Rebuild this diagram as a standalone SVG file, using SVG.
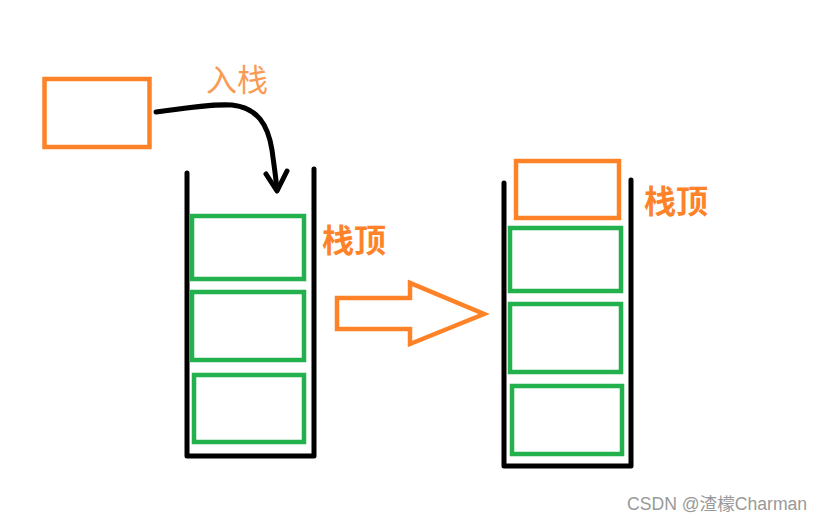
<svg xmlns="http://www.w3.org/2000/svg" width="823" height="522" viewBox="0 0 823 522">
<style>
.or{fill:none;stroke:#fe8227;stroke-width:4.5}
.gr{fill:none;stroke:#22b14c;stroke-width:4.5}
.bk{fill:none;stroke:#000;stroke-width:5;stroke-linecap:round;stroke-linejoin:round}
.lbl{font-family:"Noto Sans CJK SC","Noto Sans",sans-serif;font-size:32px;fill:#fe8227;font-weight:bold}
.lbl2{font-family:"Noto Sans CJK SC","Noto Sans",sans-serif;font-size:31px;fill:#f99b55}
.wm{font-family:"Liberation Sans","Noto Sans CJK SC",sans-serif;font-size:17.6px;fill:#999}
</style>
<rect width="823" height="522" fill="#fff"/>
<g id="source-box"><rect class="or" x="44.5" y="79" width="105" height="68"/></g>
<g id="label-push"><text class="lbl2" x="206" y="91">入栈</text></g>
<g id="left-stack">
<path class="bk" d="M187,173 V456 H314 V169"/>
<rect class="gr" x="192" y="216" width="112" height="63"/>
<rect class="gr" x="192" y="292" width="112" height="68"/>
<rect class="gr" x="194" y="375" width="110" height="67"/>
</g>
<g id="left-top-label"><text class="lbl" x="322" y="252">栈顶</text></g>
<g id="right-stack">
<path class="bk" d="M504,183 V466 H631 V180"/>
<rect class="or" x="516" y="161" width="103" height="57"/>
<rect class="gr" x="510" y="228" width="111" height="63"/>
<rect class="gr" x="510" y="304" width="111" height="68"/>
<rect class="gr" x="512" y="386" width="110" height="68"/>
</g>
<g id="right-top-label"><text class="lbl" x="644" y="213">栈顶</text></g>
<g id="connectors">
<path class="bk" d="M156,112 C185,108 210,104 232,105 C258,108 268,125 272,150 C274,165 276,178 277,190"/>
<path class="bk" d="M266,174 L277,191 L287,171"/>
<polygon class="or" stroke-linejoin="miter" points="337,298 410,298 410,283 484,314 410,344 410,329 337,329"/>
</g>
<text class="wm" x="627" y="510">CSDN @渣檬Charman</text>
</svg>
